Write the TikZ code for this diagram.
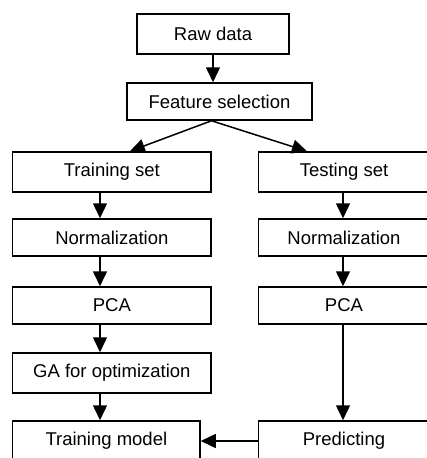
\documentclass[tikz,border=0pt]{standalone}
\usepackage{fontspec}
\setmainfont{Liberation Sans}
\usetikzlibrary{arrows.meta}
\begin{document}
\begin{tikzpicture}[x=1pt,y=-1pt,
  box/.style={draw, line width=1.5pt, rectangle, inner sep=0pt, font=\fontsize{18.5}{22}\selectfont},
  arr/.style={line width=1.5pt, -{Triangle[width=14pt,length=15pt]}}]
\useasboundingbox (0,0) rectangle (427,458);
\node[box, minimum width=152pt, minimum height=40pt] (raw) at (213,34) {Raw data};
\node[box, minimum width=185pt, minimum height=37pt] (feat) at (219.5,101.5) {Feature selection};
\node[box, minimum width=198.3pt, minimum height=40pt] (trs) at (111.85,172) {Training set};
\node[box, minimum width=171.4pt, minimum height=40pt] (tes) at (344,172) {Testing set};
\node[box, minimum width=198.3pt, minimum height=37pt] (nl) at (111.85,237.5) {Normalization};
\node[box, minimum width=171.4pt, minimum height=37pt] (nr) at (344,237.5) {Normalization};
\node[box, minimum width=198.3pt, minimum height=37pt] (pl) at (111.85,305.5) {PCA};
\node[box, minimum width=171.4pt, minimum height=37pt] (pr) at (344,305.5) {PCA};
\node[box, minimum width=198.3pt, minimum height=40pt] (ga) at (111.85,373) {GA for optimization};
\node[box, minimum width=187.3pt, minimum height=40pt] (tm) at (106.35,441) {Training model};
\node[box, minimum width=171.4pt, minimum height=40pt] (pred) at (344,441) {Predicting};
\draw[arr] (raw.south) -- (raw.south |- feat.north);
\draw[arr] ([xshift=-8pt]feat.south) -- ([xshift=18pt]trs.north);
\draw[arr] ([xshift=-8pt]feat.south) -- ([xshift=-37pt]tes.north);
\draw[arr] ([xshift=-11.85pt]trs.south) -- ([xshift=-11.85pt]nl.north);
\draw[arr] ([xshift=-11.85pt]nl.south) -- ([xshift=-11.85pt]pl.north);
\draw[arr] ([xshift=-11.85pt]pl.south) -- ([xshift=-11.85pt]ga.north);
\draw[arr] ([xshift=-11.85pt]ga.south) -- ([xshift=-11.85pt]ga.south |- tm.north);
\draw[arr] ([xshift=-1pt]tes.south) -- ([xshift=-1pt]nr.north);
\draw[arr] ([xshift=-1pt]nr.south) -- ([xshift=-1pt]pr.north);
\draw[arr] ([xshift=-1pt]pr.south) -- ([xshift=-1pt]pred.north);
\draw[arr] (pred.west) -- (tm.east);
\end{tikzpicture}
\end{document}
